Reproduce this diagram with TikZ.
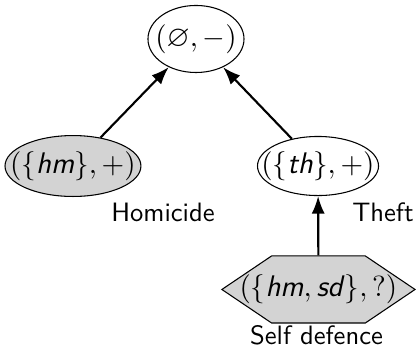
\documentclass[tikz,border=0pt]{standalone}
\usepackage{amsmath,amssymb}
\usepackage{tikz}
\usetikzlibrary{positioning,arrows.meta,shapes.geometric,shapes.symbols,calc}
\definecolor{lightgrey}{RGB}{211,211,211}
\newcommand{\sfit}[1]{\textsf{\textit{#1}}}
\newcommand{\tup}[1]{\makebox[0pt][c]{\fontsize{11.2}{13}\selectfont$#1$}}

\begin{document}
\begin{tikzpicture}[>=Latex, font=\sffamily,
  arg/.style={draw,ellipse,inner sep=0pt}, grey/.style={fill=lightgrey},
  hexa/.style={draw,signal,signal to=west and east,signal pointer angle=68,inner sep=0pt,fill=lightgrey},
  lbl/.style={anchor=base,inner sep=0pt}, sup/.style={->,thick}]
  \useasboundingbox (0,0) rectangle (5.535,-4.584);
  \node[arg,minimum width=36.1pt,minimum height=25.2pt](root) at (2.589,-0.515){\tup{(\varnothing,-)}};
  \node[arg,grey,minimum width=51.1pt,minimum height=22.9pt](hm) at (0.964,-2.193){\tup{(\{\sfit{hm}\},+)}};
  \node[arg,minimum width=45.5pt,minimum height=22.2pt](th) at (4.201,-2.193){\tup{(\{\sfit{th}\},+)}};
  \node[hexa,minimum width=72.6pt,minimum height=25.2pt](sd) at (4.207,-3.824){\tup{(\{\sfit{hm},\sfit{sd}\},?)}};
  \node[lbl](homicide) at (2.153,-2.92){Homicide};
  \node[lbl](theft) at (5.059,-2.92){Theft};
  \node[lbl](selfdef) at (4.181,-4.557){Self defence};
  \draw[sup](hm)--(root);\draw[sup](th)--(root);\draw[sup](sd)--(th);
\end{tikzpicture}
\end{document}
